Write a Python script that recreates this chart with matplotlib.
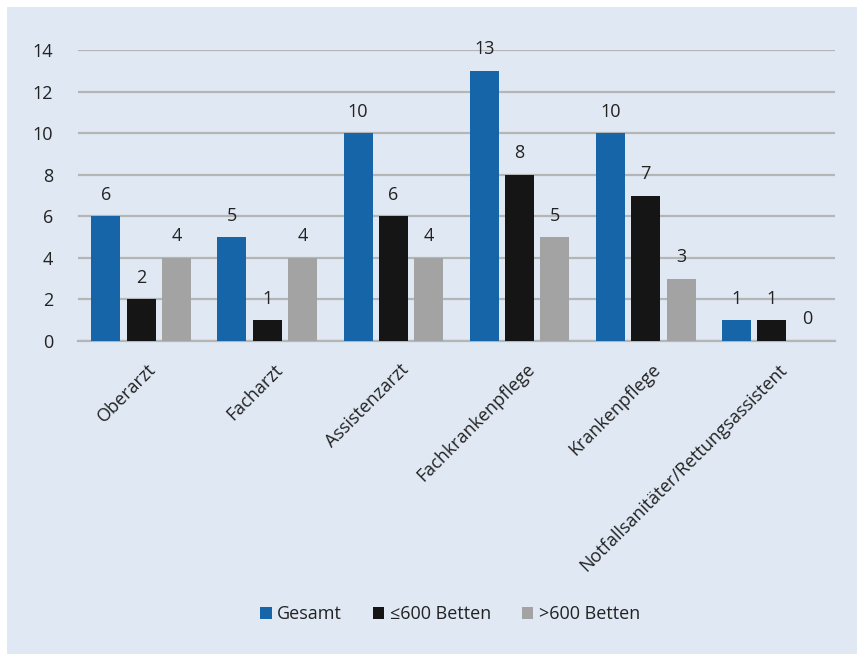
import matplotlib.pyplot as plt
import matplotlib.patches as mpatches
import matplotlib.transforms as mtransforms
import numpy as np

# Berufsgruppen und Anzahl
categories = ['Oberarzt', 'Facharzt', 'Assistenzarzt', 'Fachkrankenpflege',
              'Krankenpflege', 'Notfallsanitäter/Rettungsassistent']
gesamt = [6, 5, 10, 13, 10, 1]
bis600 = [2, 1, 6, 8, 7, 1]
ueber600 = [4, 4, 4, 5, 3, 0]
series_names = ['Gesamt', '≤600 Betten', '>600 Betten']
colors = ['#1565a8', '#151515', '#a3a3a3']

plt.rcParams['font.family'] = ['Open Sans', 'DejaVu Sans']
plt.rcParams['font.size'] = 13
text_color = '#222222'
bg = '#dfe8f3'

fig = plt.figure(figsize=(8.57, 6.54), dpi=100)
fig.patch.set_facecolor('white')
# light blue panel with small white margin top/left
fig.patches.append(mpatches.Rectangle((7 / 857, 0), 1, 1 - 7 / 654,
                                      transform=fig.transFigure,
                                      facecolor=bg, edgecolor='none', zorder=-5))

ax = fig.add_axes([78 / 857, 1 - 341 / 654, (835 - 78) / 857, (341 - 50) / 654])
ax.set_facecolor(bg)

x = np.arange(len(categories))
width = 0.23
offsets = [-0.28, 0, 0.28]
for vals, off, col, name in zip([gesamt, bis600, ueber600], offsets, colors, series_names):
    bars = ax.bar(x + off, vals, width, color=col, label=name, zorder=3)
    for b, v in zip(bars, vals):
        ax.annotate(str(v), (b.get_x() + b.get_width() / 2, v),
                    xytext=(0, 9), textcoords='offset points',
                    ha='center', va='bottom', color=text_color, fontsize=13)

ax.set_xlim(-0.5, len(categories) - 0.5)
ax.set_ylim(0, 14)
ax.set_yticks(np.arange(0, 15, 2))
ax.yaxis.grid(True, color='#b5b5b5', linewidth=1.6, zorder=0)
ax.set_axisbelow(True)
for s in ['top', 'right', 'left']:
    ax.spines[s].set_visible(False)
ax.spines['bottom'].set_color('#b5b5b5')
ax.spines['bottom'].set_linewidth(1.6)
ax.tick_params(axis='both', length=0, colors=text_color, labelsize=13)
ax.tick_params(axis='y', pad=18)
ax.tick_params(axis='x', pad=14)
ax.set_xticks(x)
ax.set_xticklabels(categories, rotation=45, ha='right', rotation_mode='anchor')
# nudge the rotated labels a little to the right
shift = mtransforms.ScaledTranslation(6 / 100, 0, fig.dpi_scale_trans)
for lbl in ax.get_xticklabels():
    lbl.set_transform(lbl.get_transform() + shift)

fig.legend(loc='center', bbox_to_anchor=(450 / 857, 1 - 614 / 654), ncol=3,
           frameon=False, handlelength=0.65, handleheight=0.65,
           handletextpad=0.3, columnspacing=1.7, fontsize=13,
           labelcolor=text_color)

fig.savefig('out.png', dpi=100, facecolor=fig.get_facecolor())
